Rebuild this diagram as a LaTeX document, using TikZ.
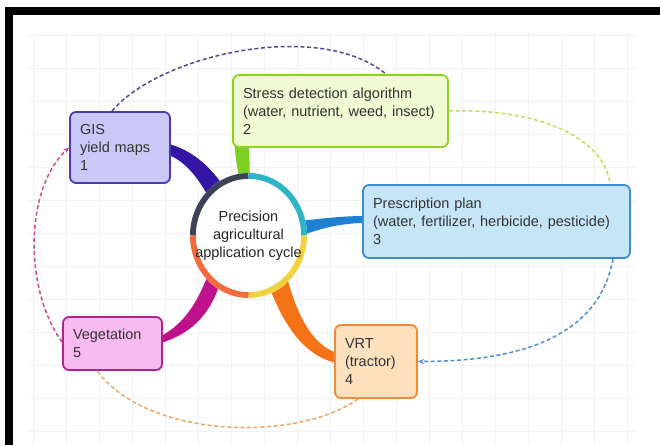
\documentclass[tikz,border=0pt]{standalone}
\usepackage{fontspec}
\setmainfont{Liberation Sans}
\usetikzlibrary{calc,arrows.meta}
\pgfdeclarelayer{bg}
\pgfsetlayers{bg,main}
\definecolor{txt}{HTML}{333333}
\definecolor{ctxt}{HTML}{262626}
\definecolor{gridc}{HTML}{F1F1F1}
\definecolor{fgis}{HTML}{C9C8F7}
\definecolor{bgis}{HTML}{4B3BB0}
\definecolor{fstress}{HTML}{F1FAD2}
\definecolor{bstress}{HTML}{8CD226}
\definecolor{fpresc}{HTML}{C6E6F8}
\definecolor{bpresc}{HTML}{3D8BD0}
\definecolor{fvrt}{HTML}{FDE1BE}
\definecolor{bvrt}{HTML}{F08A36}
\definecolor{fveg}{HTML}{F8BAEF}
\definecolor{bveg}{HTML}{B4218D}
\definecolor{cgis}{HTML}{3415A6}
\definecolor{cgreen}{HTML}{7ECF23}
\definecolor{cblue}{HTML}{1F80D2}
\definecolor{corange}{HTML}{F47316}
\definecolor{cmag}{HTML}{BE128C}
\definecolor{cdark}{HTML}{3E4257}
\definecolor{cteal}{HTML}{2DB5C6}
\definecolor{cyellow}{HTML}{F0D23E}
\definecolor{corg}{HTML}{F26B3C}
\definecolor{dnav}{HTML}{4A4A96}
\definecolor{dgreen}{HTML}{C9D85E}
\definecolor{dblue}{HTML}{4B8FD6}
\definecolor{dorange}{HTML}{F2A465}
\definecolor{dmag}{HTML}{D2478F}
\newcommand{\boxfont}{\fontsize{14.5}{18}\selectfont}
\begin{document}
\begin{tikzpicture}[x=1pt,y=1pt,
  box/.style={draw, line width=1.8pt, rounded corners=6pt, align=left,
    inner xsep=10pt, inner ysep=2pt, font=\boxfont, text=txt},
  dline/.style={dash pattern=on 4pt off 2.6pt, line width=1.5pt},
  ringw/.style={line width=5.8pt},
  tip/.style={-{Stealth[length=6pt,width=5pt]}}]
\useasboundingbox (0,0) rectangle (660,445);
\begin{pgfonlayer}{bg}
\fill[white] (0,0) rectangle (660,445);
\foreach \gx in {33,66,...,627} \draw[gridc, line width=0.7pt] (\gx,0) -- (\gx,412);
\foreach \gy in {14,47,...,410} \draw[gridc, line width=0.7pt] (28,\gy) -- (636,\gy);
\fill[black] (5,430) rectangle (660,438);
\fill[black] (5,0) rectangle (13.3,438);
\end{pgfonlayer}

\coordinate (c) at (248.5,209.5);

% boxes
\node[box, fill=fgis, draw=bgis, text width=80pt, minimum height=71pt] (gis) at (120,297.5) {GIS\\yield maps\\1};
\node[box, fill=fstress, draw=bstress, text width=195pt, minimum height=72pt] (stress) at (340.5,334) {Stress detection algorithm\\(water, nutrient, weed, insect)\\2};
\node[box, fill=fpresc, draw=bpresc, text width=247pt, minimum height=73pt] (presc) at (496.5,223.5) {Prescription plan\\(water, fertilizer, herbicide, pesticide)\\3};
\node[box, fill=fvrt, draw=bvrt, text width=62pt, minimum height=73pt] (vrt) at (376,83.5) {VRT\\(tractor)\\4};
\node[box, fill=fveg, draw=bveg, text width=79pt, minimum height=53pt] (veg) at (112.5,101.5) {Vegetation\\5};

% tapered branches
\begin{pgfonlayer}{bg}
\fill[cgis] ($(gis.east)+(-2,3.5)$) .. controls +(22,-6) and +(-16,25) .. ($(c)+(-22.5,45.5)$) -- ($(c)+(-40.5,39.5)$) .. controls +(-10,18) and +(17,-7) .. ($(gis.east)+(-2,-7.5)$) -- cycle;
\fill[cgreen] ($(stress.south)+(-106.5,7)$) .. controls +(2,-20) and +(-2,12) .. ($(c)+(-9,53.5)$) -- ($(c)+(1.5,53.5)$) -- ($(stress.south)+(-91.5,7)$) -- cycle;
\fill[cblue] ($(c)+(49.5,14.5)$) .. controls +(22,2) and +(-25,0) .. ($(presc.west)+(3,5.5)$) -- ($(presc.west)+(3,-1.5)$) .. controls +(-25,0) and +(20,8) .. ($(c)+(49.5,-1.5)$) -- cycle;
\fill[corange] ($(c)+(37.5,-38.5)$) .. controls +(10,-38) and +(-26,8) .. ($(vrt.west)+(3,8.5)$) -- ($(vrt.west)+(3,-1.5)$) .. controls +(-36,7) and +(14,-40) .. ($(c)+(17.5,-42.5)$) -- cycle;
\fill[cmag] ($(c)+(-27.5,-44.5)$) .. controls +(-9,-30) and +(35,11) .. ($(veg.east)+(-2,0.5)$) -- ($(veg.east)+(-2,7.5)$) .. controls +(25,13) and +(-10,-25) .. ($(c)+(-40.5,-39.5)$) -- cycle;
\end{pgfonlayer}

% centre ring
\fill[white] (c) ellipse[x radius=58.5, y radius=62.5];
\draw[ringw, cdark] ($(c)+(0,59.6)$) arc[start angle=90, end angle=180, x radius=55.6, y radius=59.6];
\draw[ringw, cteal] ($(c)+(55.6,0)$) arc[start angle=0, end angle=90, x radius=55.6, y radius=59.6];
\draw[ringw, cyellow] ($(c)+(0,-59.6)$) arc[start angle=270, end angle=360, x radius=55.6, y radius=59.6];
\draw[ringw, corg] ($(c)+(-55.6,0)$) arc[start angle=180, end angle=270, x radius=55.6, y radius=59.6];
\node[font=\boxfont, align=center, text=ctxt, inner sep=0pt] (ctext) at (c) {Precision\\agricultural\\application cycle};

% dashed cycle
\draw[dline, dnav] ([xshift=-8pt]gis.north) .. controls +(48,57) and +(-66,55) .. ([xshift=45.5pt]stress.north);
\draw[dline, dgreen] (stress.east) .. controls +(92,3) and +(-5,45) .. ([xshift=113.5pt]presc.north);
\draw[dline, dblue, tip] ([xshift=116.5pt]presc.south) .. controls +(-13,-72) and +(113,0) .. (vrt.east);
\draw[dline, dorange] ([xshift=-18pt]vrt.south) .. controls +(-58,-42) and +(53,-70) .. ([xshift=-15.5pt]veg.south);
\draw[dline, dmag, tip] ([yshift=1.5pt]veg.west) .. controls +(-38,52) and +(-45,-42) .. (gis.west);
\end{tikzpicture}
\end{document}
